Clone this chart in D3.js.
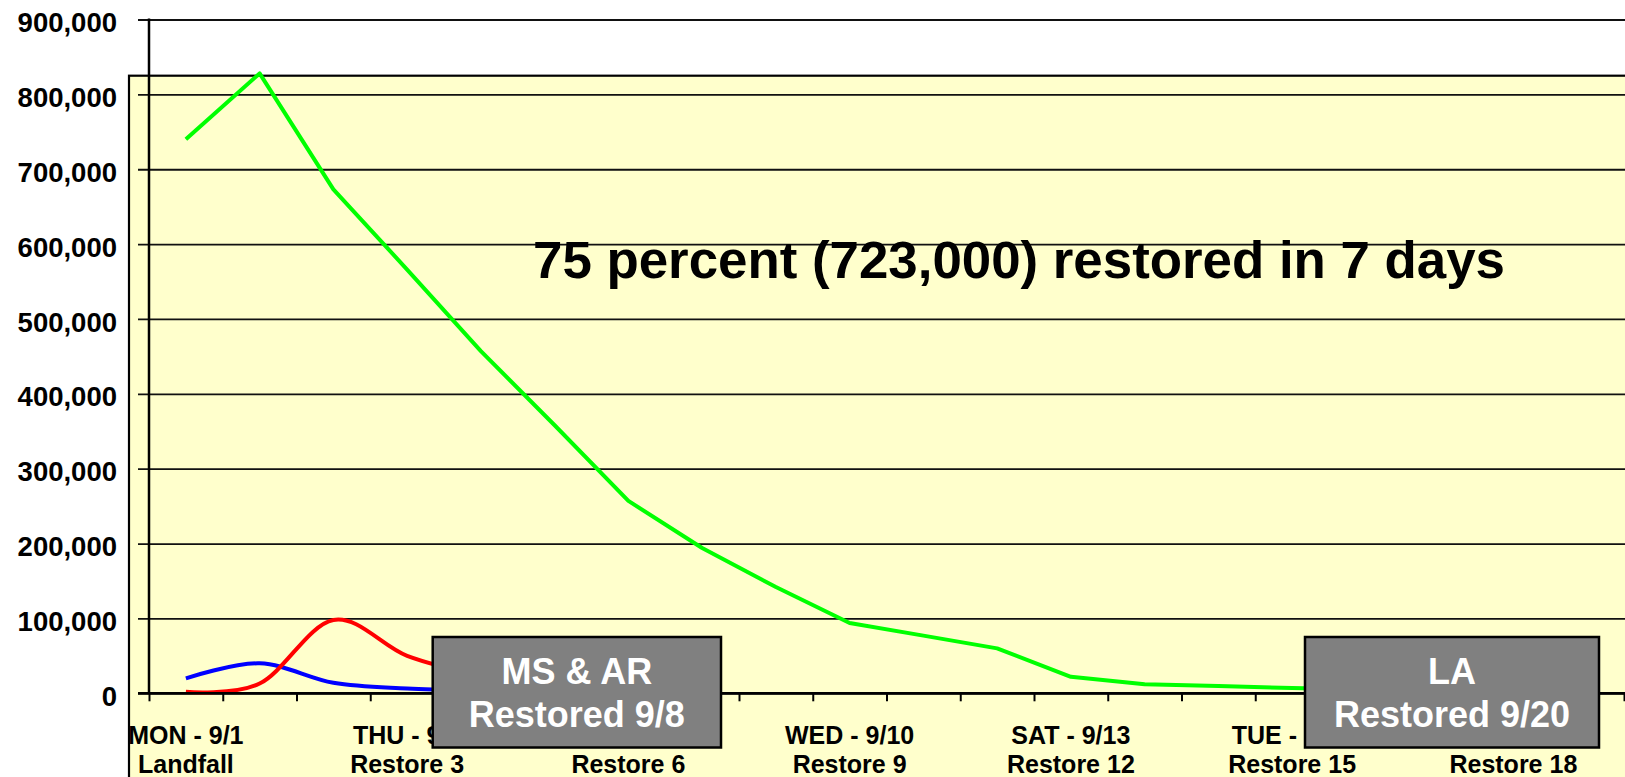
<!DOCTYPE html>
<html>
<head>
<meta charset="utf-8">
<script src="https://cdn.jsdelivr.net/npm/d3@7"></script>
<style>
  html, body { margin: 0; padding: 0; background: #fff; overflow: hidden; }
  svg { display: block; font-family: "Liberation Sans", Arial, sans-serif; font-weight: bold; }
</style>
</head>
<body>
<div id="chart"></div>
<script>
'use strict';

// days after landfall (9/1 .. 9/20)
var categories = ["9/1", "9/2", "9/3", "9/4", "9/5", "9/6", "9/7", "9/8", "9/9", "9/10",
    "9/11", "9/12", "9/13", "9/14", "9/15", "9/16", "9/17", "9/18", "9/19", "9/20"];

// customers out (null = already restored)
var laOut = [740000, 828000, 673000, 566000, 457000, 358000, 257000, 194000, 142000, 94000,
    77000, 60000, 22000, 12000, 9700, 7000, 5000, 3500, 2000, 1000];
var msOut = [2000, 13000, 98000, 50000, 24000, 10000, 3000, 0, null, null,
    null, null, null, null, null, null, null, null, null, null];
var arOut = [20000, 40000, 14000, 6500, 3500, 2000, 800, 0, null, null,
    null, null, null, null, null, null, null, null, null, null];

var yTicks = [0, 100000, 200000, 300000, 400000, 500000, 600000, 700000, 800000, 900000];
var tickCats = ["9/1", "9/4", "9/7", "9/10", "9/13", "9/16", "9/19"];
var tickTop = ["MON - 9/1", "THU - 9/4", "SUN - 9/7", "WED - 9/10", "SAT - 9/13", "TUE - 9/16", "FRI - 9/19"];
var tickBottom = ["Landfall", "Restore 3", "Restore 6", "Restore 9", "Restore 12", "Restore 15", "Restore 18"];

var W = 1625, H = 777;
var plotLeft = 149, plotRight = 1624, plotTop = 19.5, plotBottom = 693.3;

var svg = d3.select("#chart").append("svg")
    .attr("width", W)
    .attr("height", H);

var x = d3.scaleBand().domain(categories).range([plotLeft, plotRight]);
var xEdge = d3.scaleLinear().domain([0, categories.length]).range([plotLeft, plotRight]);
var y = d3.scaleLinear().domain([0, 900000]).range([plotBottom, plotTop]);

// yellow plot box
svg.append("rect")
    .attr("x", 129)
    .attr("y", 75.7)
    .attr("width", W)
    .attr("height", H)
    .attr("fill", "#ffffcc")
    .attr("stroke", "#000")
    .attr("stroke-width", 2.2);

// y axis with gridlines
var yAxis = svg.append("g")
    .attr("transform", "translate(138,0)")
    .call(d3.axisLeft(y)
        .tickValues(yTicks)
        .tickSize(-(W - 138))
        .tickPadding(21)
        .tickFormat(d3.format(",")));
yAxis.select(".domain").remove();
yAxis.selectAll(".tick line")
    .attr("stroke", "#111")
    .attr("stroke-width", 1.8);
yAxis.selectAll(".tick text")
    .attr("dy", "0.44em")
    .attr("font-size", "27.5px")
    .attr("font-weight", "bold")
    .attr("font-family", "Liberation Sans, Arial, sans-serif")
    .attr("fill", "#000");

// annotation
svg.append("text")
    .attr("x", 1019)
    .attr("y", 278)
    .attr("text-anchor", "middle")
    .attr("font-size", "51px")
    .attr("textLength", 972)
    .attr("lengthAdjust", "spacingAndGlyphs")
    .attr("fill", "#000")
    .text("75 percent (723,000) restored in 7 days");

// series
var cx = function (d, i) { return x(categories[i]) + x.bandwidth() / 2; };
var has = function (d) { return d !== null; };
var straight = d3.line().defined(has).x(cx).y(function (d) { return y(d); });
var smooth = d3.line().defined(has).x(cx).y(function (d) { return y(d); }).curve(d3.curveCardinal);

svg.append("path").datum(arOut)
    .attr("d", smooth).attr("fill", "none")
    .attr("stroke", "#0000ff").attr("stroke-width", 4);
svg.append("path").datum(msOut)
    .attr("d", smooth).attr("fill", "none")
    .attr("stroke", "#ff0000").attr("stroke-width", 4);
svg.append("path").datum(laOut)
    .attr("d", straight).attr("fill", "none")
    .attr("stroke", "#00ff00").attr("stroke-width", 4)
    .attr("stroke-linejoin", "round");

// axis lines
svg.append("line")
    .attr("x1", plotLeft).attr("x2", plotLeft)
    .attr("y1", plotTop - 1).attr("y2", plotBottom)
    .attr("stroke", "#000").attr("stroke-width", 2.5);

var xAxis = svg.append("g")
    .attr("transform", "translate(0," + plotBottom + ")")
    .call(d3.axisBottom(xEdge)
        .tickValues(d3.range(0, categories.length + 1))
        .tickSize(8)
        .tickSizeOuter(0)
        .tickFormat(""));
xAxis.select(".domain").remove();
xAxis.selectAll(".tick line").attr("stroke", "#000").attr("stroke-width", 2);
svg.append("line")
    .attr("x1", 138).attr("x2", W)
    .attr("y1", plotBottom).attr("y2", plotBottom)
    .attr("stroke", "#000").attr("stroke-width", 2.5);

// category labels
var lab = svg.append("g")
    .attr("font-size", "25px")
    .attr("text-anchor", "middle")
    .attr("fill", "#000");
lab.selectAll("text.l1").data(tickCats).enter().append("text")
    .attr("class", "l1")
    .attr("x", function (d) { return x(d) + x.bandwidth() / 2; })
    .attr("y", 744)
    .text(function (d, i) { return tickTop[i]; });
lab.selectAll("text.l2").data(tickCats).enter().append("text")
    .attr("class", "l2")
    .attr("x", function (d) { return x(d) + x.bandwidth() / 2; })
    .attr("y", 772.5)
    .text(function (d, i) { return tickBottom[i]; });

// callout boxes (they sit over the axis labels, as in the slide)
var boxes = [
    { x0: 432.7, x1: 721, lines: ["MS & AR", "Restored 9/8"] },
    { x0: 1305, x1: 1599, lines: ["LA", "Restored 9/20"] }
];
boxes.forEach(function (b) {
    var g = svg.append("g");
    g.append("rect")
        .attr("x", b.x0).attr("y", 637)
        .attr("width", b.x1 - b.x0).attr("height", 110.5)
        .attr("fill", "#808080")
        .attr("stroke", "#000").attr("stroke-width", 2.5);
    g.selectAll("text").data(b.lines).enter().append("text")
        .attr("x", (b.x0 + b.x1) / 2)
        .attr("y", function (d, i) { return i === 0 ? 684 : 726.7; })
        .attr("text-anchor", "middle")
        .attr("font-size", "36px")
        .attr("fill", "#fff")
        .text(function (d) { return d; });
});
</script>
</body>
</html>
